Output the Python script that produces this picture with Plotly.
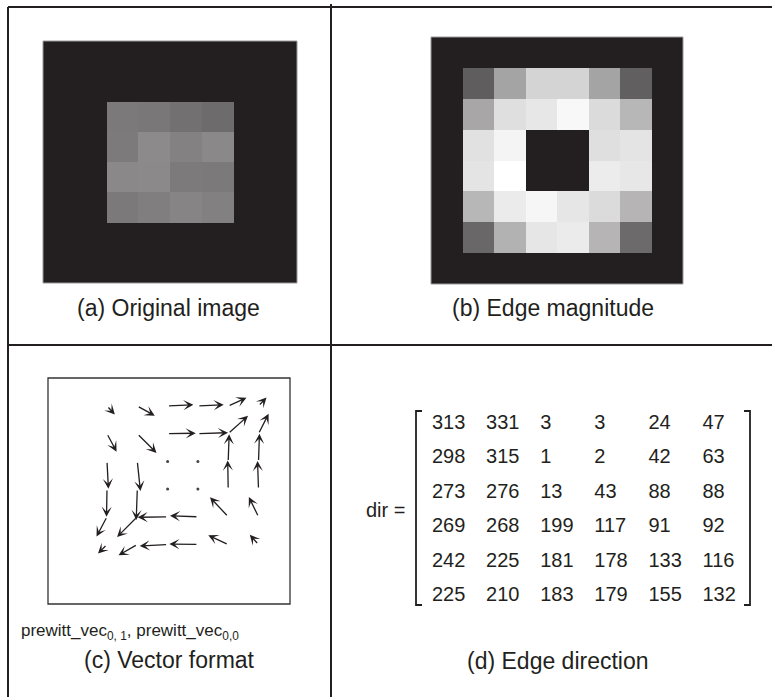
import numpy as np
import plotly.graph_objects as go

W, H = 772, 697

# (a) original image: central 4x4 grey patch (0 = background black, 255 = white)
orig_patch = [
    [102, 100, 92, 87],
    [104, 122, 111, 119],
    [119, 121, 104, 102],
    [102, 108, 115, 110],
]
# (b) edge magnitude (6x6, 0..255)
edge_mag = [
    [71, 151, 206, 206, 151, 73],
    [154, 219, 228, 247, 214, 173],
    [221, 243, 0, 0, 219, 224],
    [224, 255, 0, 0, 233, 228],
    [173, 232, 245, 226, 214, 170],
    [82, 167, 226, 232, 170, 85],
]
# (d) edge direction in degrees
edge_dir = [
    [313, 331, 3, 3, 24, 47],
    [298, 315, 1, 2, 42, 63],
    [273, 276, 13, 43, 88, 88],
    [269, 268, 199, 117, 91, 92],
    [242, 225, 181, 178, 133, 116],
    [225, 210, 183, 179, 155, 132],
]
captions = ["(a) Original image", "(b) Edge magnitude",
            "(c) Vector format", "(d) Edge direction"]
vec_label = "prewitt_vec<sub>0, 1</sub>, prewitt_vec<sub>0,0</sub>"
dir_label = "dir ="

INK = "#231f20"
FONT = "Liberation Sans, Arial, Helvetica, sans-serif"


def px(x):
    return x / W


def py(y):
    return 1 - y / H


def xdom(a, b):
    return [a / W, b / W]


def ydom(a, b):
    return [1 - b / H, 1 - a / H]


img_a = np.zeros((8, 8))
img_a[2:6, 2:6] = np.array(orig_patch)
img_b = np.zeros((8, 8))
img_b[1:7, 1:7] = np.array(edge_mag)

gray = [[0, INK], [1, "#ffffff"]]

fig = go.Figure()
fig.add_trace(go.Heatmap(z=img_a, colorscale=gray, zmin=0, zmax=255,
                         showscale=False, xaxis="x", yaxis="y", hoverinfo="skip"))
fig.add_trace(go.Heatmap(z=img_b, colorscale=gray, zmin=0, zmax=255,
                         showscale=False, xaxis="x2", yaxis="y2", hoverinfo="skip"))

# ---- quiver (c) ----
qx0, qx1, qy0, qy1 = 48, 290, 378, 604
col0_px, col_step = 107, 30.3
row0_px, row_step = 406, 27.7
qxr = [(qx0 - col0_px) / col_step, (qx1 - col0_px) / col_step]
qyr = [(qy1 - row0_px) / row_step, (qy0 - row0_px) / row_step]
px_per_x = (qx1 - qx0) / (qxr[1] - qxr[0])
px_per_y = (qy1 - qy0) / (qyr[0] - qyr[1])
L_min, L_span = 4.0, 27.0  # arrow pixel length = L_min + L_span * magnitude/255

mag = np.array(edge_mag, dtype=float)
ang = np.radians(np.array(edge_dir, dtype=float))
annotations = []
zx, zy = [], []
for r in range(6):
    for c in range(6):
        m = mag[r, c]
        if m <= 0:
            zx.append(c)
            zy.append(r)
            continue
        L = L_min + L_span * m / 255.0
        hx = c + L * np.cos(ang[r, c]) / px_per_x
        hy = r - L * np.sin(ang[r, c]) / px_per_y
        annotations.append(dict(
            x=hx, y=hy, ax=c, ay=r, xref="x3", yref="y3", axref="x3", ayref="y3",
            text="", showarrow=True, arrowhead=3, arrowsize=1.3, arrowwidth=1.3,
            arrowcolor=INK, standoff=0, startstandoff=0))
fig.add_trace(go.Scatter(x=zx, y=zy, mode="markers", xaxis="x3", yaxis="y3",
                         marker=dict(size=3, color="#444"), hoverinfo="skip"))

# ---- matrix (d) ----
mx0, mx1, my0, my1 = 420, 760, 411, 605
mcol0, mcol_step = 432, 54.1
mrow0, mrow_step = 424, 34.4
mxr = [(mx0 - mcol0) / mcol_step, (mx1 - mcol0) / mcol_step]
myr = [(my1 - mrow0) / mrow_step, (my0 - mrow0) / mrow_step]
tx, ty, tt = [], [], []
for r in range(6):
    for c in range(6):
        tx.append(c)
        ty.append(r)
        tt.append(str(edge_dir[r][c]))
fig.add_trace(go.Scatter(x=tx, y=ty, text=tt, mode="text", textposition="middle right",
                         textfont=dict(size=20, family=FONT, color=INK),
                         xaxis="x4", yaxis="y4", hoverinfo="skip"))

ax_common = dict(visible=False, showgrid=False, zeroline=False, fixedrange=True)
fig.update_layout(
    width=W, height=H, margin=dict(l=0, r=0, t=0, b=0),
    paper_bgcolor="white", plot_bgcolor="rgba(0,0,0,0)", showlegend=False,
    xaxis=dict(domain=xdom(43, 297), range=[-0.5, 7.5], **ax_common),
    yaxis=dict(domain=ydom(41, 283), range=[7.5, -0.5], **ax_common),
    xaxis2=dict(domain=xdom(431, 683), range=[-0.5, 7.5], **ax_common),
    yaxis2=dict(domain=ydom(37, 284), range=[7.5, -0.5], **ax_common),
    xaxis3=dict(domain=xdom(qx0, qx1), range=qxr, **ax_common),
    yaxis3=dict(domain=ydom(qy0, qy1), range=qyr, **ax_common),
    xaxis4=dict(domain=xdom(mx0, mx1), range=mxr, **ax_common),
    yaxis4=dict(domain=ydom(my0, my1), range=myr, **ax_common),
)

shapes = []
line = dict(color=INK, width=2)
# outer frame / dividers
shapes.append(dict(type="line", xref="paper", yref="paper", x0=px(8), x1=px(772), y0=py(7), y1=py(7), line=line))
shapes.append(dict(type="line", xref="paper", yref="paper", x0=px(8), x1=px(772), y0=py(345), y1=py(345), line=line))
shapes.append(dict(type="line", xref="paper", yref="paper", x0=px(8), x1=px(8), y0=py(7), y1=py(697), line=line))
shapes.append(dict(type="line", xref="paper", yref="paper", x0=px(331), x1=px(331), y0=py(4), y1=py(697), line=line))
# image outlines
for (a, b, c_, d) in [(43, 297, 41, 283), (431, 683, 37, 284)]:
    shapes.append(dict(type="rect", xref="paper", yref="paper", x0=px(a), x1=px(b),
                       y0=py(c_), y1=py(d), line=dict(color="#9a9a9a", width=1)))
# quiver box
shapes.append(dict(type="rect", xref="paper", yref="paper", x0=px(qx0), x1=px(qx1),
                   y0=py(qy0), y1=py(qy1), line=dict(color="#333", width=1.3)))
# matrix brackets
bl = dict(color=INK, width=1.8)
shapes.append(dict(type="path", xref="paper", yref="paper",
                   path=f"M {px(422)},{py(411)} L {px(416)},{py(411)} L {px(416)},{py(605)} L {px(422)},{py(605)}",
                   line=bl))
shapes.append(dict(type="path", xref="paper", yref="paper",
                   path=f"M {px(744)},{py(411)} L {px(750)},{py(411)} L {px(750)},{py(605)} L {px(744)},{py(605)}",
                   line=bl))

tfont = dict(size=23, family=FONT, color=INK)
for text, cx, cy in zip(captions, [168, 553, 169, 558], [308, 308, 660, 661]):
    annotations.append(dict(text=text, x=px(cx), y=py(cy), xref="paper", yref="paper",
                            showarrow=False, xanchor="center", yanchor="middle", font=tfont))
annotations.append(dict(text=vec_label, x=px(19), y=py(632), xref="paper", yref="paper",
                        showarrow=False, xanchor="left", yanchor="middle",
                        font=dict(size=17, family=FONT, color=INK)))
annotations.append(dict(text=dir_label, x=px(385), y=py(510), xref="paper", yref="paper",
                        showarrow=False, xanchor="center", yanchor="middle",
                        font=dict(size=20, family=FONT, color=INK)))

fig.update_layout(shapes=shapes, annotations=annotations)
fig.write_html("out.html", config={"displayModeBar": False},
               post_script="document.body.style.margin='0';")
